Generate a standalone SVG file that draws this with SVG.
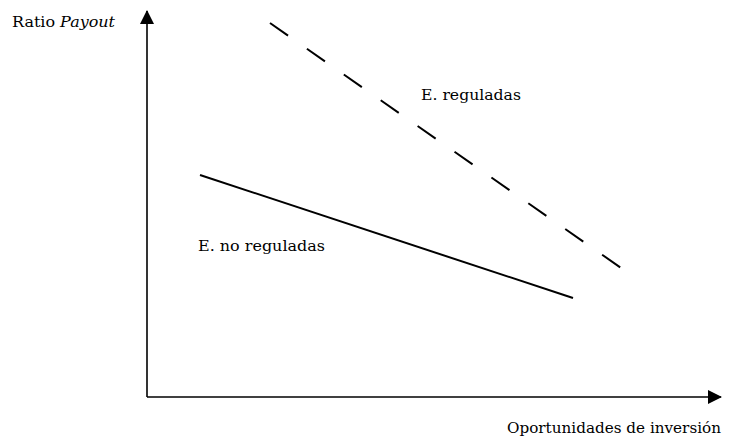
<svg xmlns="http://www.w3.org/2000/svg" width="736" height="436" viewBox="0 0 736 436">
<style>
text{font-family:"DejaVu Serif","Liberation Serif",serif;font-size:14px;fill:#000}
.ax{stroke:#000;stroke-width:1.6;fill:none}
.ln{stroke:#000;stroke-width:2;fill:none}
</style>
<defs>
<marker id="ah" markerWidth="14" markerHeight="14" refX="13" refY="7" orient="auto" markerUnits="userSpaceOnUse">
<path d="M0,0 L14,7 L0,14 Z" fill="#000"/>
</marker>
</defs>
<rect width="736" height="436" fill="#fff"/>
<g id="connectors">
<path class="ax" d="M147,397 L147,11" marker-end="url(#ah)"/>
<path class="ax" d="M147,397 L721,397" marker-end="url(#ah)"/>
<path class="ln" d="M200,175 L573,298"/>
<path class="ln" d="M270,23 L624,270" stroke-dasharray="22 23"/>
</g>
<g id="label-y"><text x="12" y="27" textLength="103" lengthAdjust="spacingAndGlyphs">Ratio <tspan font-style="italic">Payout</tspan></text></g>
<g id="label-x"><text x="507" y="433" textLength="214" lengthAdjust="spacingAndGlyphs">Oportunidades de inversión</text></g>
<g id="label-reg"><text x="421" y="100" textLength="100" lengthAdjust="spacingAndGlyphs">E. reguladas</text></g>
<g id="label-noreg"><text x="198" y="251" textLength="127" lengthAdjust="spacingAndGlyphs">E. no reguladas</text></g>
</svg>
